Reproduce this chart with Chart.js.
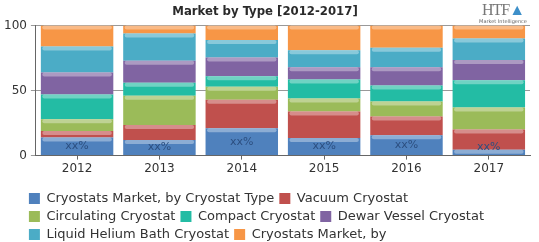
<!DOCTYPE html>
<html><head><meta charset="utf-8">
<script src="https://cdn.jsdelivr.net/npm/chart.js@4"></script>
<style>
html,body{margin:0;padding:0;background:#fff;}
#wrap{position:relative;width:539px;height:242px;}
#logo{position:absolute;left:470px;top:2px;width:66px;text-align:center;color:#777;font-family:"Liberation Serif",serif;}
#logo .h{font-size:16px;line-height:16px;letter-spacing:-1px;}
#logo .s{font-size:5px;line-height:6px;font-family:"DejaVu Sans",sans-serif;color:#666;}
</style></head>
<body><div id="wrap"><canvas id="c" width="539" height="242"></canvas>
<div id="logo"><div class="h">HTF<span style="color:#3d8fc9">&#9650;</span></div><div class="s">Market Intelligence</div></div></div>
<script>
const categories = ["2012","2013","2014","2015","2016","2017"];
const seriesNames = ["Cryostats Market, by Cryostat Type","Vacuum Cryostat","Circulating Cryostat","Compact Cryostat","Dewar Vessel Cryostat","Liquid Helium Bath Cryostat","Cryostats Market, by"];
const typeMarket   = [14, 12, 21, 13.5, 15.6, 4.5];
const vacuum       = [5, 11.5, 22, 20.5, 14.4, 15.5];
const circulating  = [9, 22.5, 10, 10, 11.6, 17];
const compact      = [19, 10, 8, 14.5, 12.4, 21];
const dewar        = [17, 17, 14.5, 9.5, 14, 15.5];
const liquidHelium = [20, 21, 13.5, 13, 15, 16.5];
const marketBy     = [16, 6, 11, 19, 17, 10];
const yTicks = [0, 50, 100];
const barLabels = ["xx%","xx%","xx%","xx%","xx%","xx%"];
const colors = ["#4f81bd","#c0504d","#9bbb59","#23bca4","#8064a2","#4bacc6","#f79646"];
const allSeries = [typeMarket, vacuum, circulating, compact, dewar, liquidHelium, marketBy];

const glossPlugin = {
  id:'gloss',
  afterDatasetsDraw(chart){
    const ctx = chart.ctx;
    chart.data.datasets.forEach((ds,di)=>{
      const meta = chart.getDatasetMeta(di);
      meta.data.forEach(el=>{
        const w = el.width, x = el.x - w/2, top = Math.min(el.y, el.base);
        const h = Math.abs(el.base - el.y);
        if (h < 1) return;
        const bh = Math.min(4, h);
        ctx.save();
        ctx.fillStyle = 'rgba(255,255,255,0.35)';
        ctx.beginPath();
        ctx.roundRect(x+1.5, top, w-3, bh, 2.5);
        ctx.fill();
        ctx.restore();
      });
    });
  }
};
const labelPlugin = {
  id:'xxlabels',
  afterDatasetsDraw(chart){
    const ctx = chart.ctx;
    const meta = chart.getDatasetMeta(0);
    ctx.save();
    ctx.font = '11px "DejaVu Sans", sans-serif';
    ctx.fillStyle = '#2c4f80';
    ctx.textAlign = 'center';
    ctx.textBaseline = 'middle';
    meta.data.forEach((el,i)=>{
      let y = (el.y + el.base)/2;
      y = Math.min(y, el.base - 8);
      ctx.fillText(barLabels[i], el.x, y);
    });
    ctx.restore();
  }
};
const legendShift = {
  id:'legendShift',
  afterLayout(chart){
    const lg = chart.legend;
    if (lg) { lg.left -= 12; lg.right -= 12; lg.top += 9; lg.bottom += 9; }
  }
};

new Chart(document.getElementById('c'), {
  type:'bar',
  data:{
    labels: categories,
    datasets: allSeries.map((d,i)=>({
      label: seriesNames[i], data: d, backgroundColor: colors[i], borderWidth:0,
      categoryPercentage:1.0, barPercentage:0.88
    }))
  },
  options:{
    responsive:false, animation:false,
    layout:{padding:{left:0,right:9,top:0,bottom:0}},
    plugins:{
      title:{display:true, text:'Market by Type [2012-2017]', color:'#2a2a2a',
        font:{family:'"DejaVu Sans Condensed",sans-serif', size:13, weight:'bold'},
        padding:{top:4,bottom:6}},
      legend:{position:'bottom', align:'start', fullSize:false,
        labels:{boxWidth:11, boxHeight:11, padding:5, color:'#333',
          font:{family:'"DejaVu Sans",sans-serif', size:13}}},
      tooltip:{enabled:false}
    },
    scales:{
      x:{stacked:true,
        grid:{display:true, drawOnChartArea:false, drawTicks:true, tickLength:4, offset:false, color:'#666'},
        border:{display:true, color:'#666'},
        ticks:{color:'#333', font:{family:'"DejaVu Sans",sans-serif', size:12}, padding:2}},
      y:{stacked:true, min:0, max:100,
        afterBuildTicks(ax){ ax.ticks = yTicks.map(v=>({value:v})); },
        grid:{color:'#999', tickLength:5, drawTicks:true},
        border:{display:true, color:'#666'},
        ticks:{color:'#333', font:{family:'"DejaVu Sans",sans-serif', size:12}, padding:4}}
    }
  },
  plugins:[glossPlugin, labelPlugin, legendShift]
});
</script></body></html>
